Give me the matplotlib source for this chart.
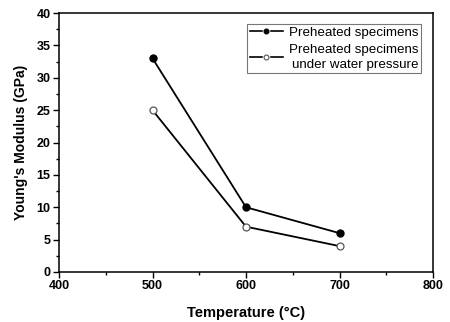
import matplotlib.pyplot as plt
from matplotlib.lines import Line2D
from matplotlib.legend_handler import HandlerTuple
from matplotlib.ticker import MultipleLocator

plt.rcParams['font.family'] = ['Liberation Sans', 'DejaVu Sans']

temperature = [500, 600, 700]
modulus_preheated = [33, 10, 6]
modulus_water = [25, 7, 4]
labels = ['Preheated specimens', 'Preheated specimens\nunder water pressure']

fig = plt.figure(figsize=(4.5, 3.22), dpi=100)
ax = fig.add_axes([59 / 450, 1 - 272 / 322, (433 - 59) / 450, (272 - 13) / 322])

ax.plot(temperature, modulus_preheated, color='black', lw=1.3, marker='o', ms=5,
        mfc='black', mec='black')
ax.plot(temperature, modulus_water, color='black', lw=1.3, marker='o', ms=5,
        mfc='white', mec='#555555', mew=0.9)

ax.set_xlim(400, 800)
ax.set_ylim(0, 40)
ax.xaxis.set_major_locator(MultipleLocator(100))
ax.xaxis.set_minor_locator(MultipleLocator(50))
ax.yaxis.set_major_locator(MultipleLocator(5))
ax.yaxis.set_minor_locator(MultipleLocator(2.5))
ax.tick_params(which='major', direction='out', length=4, width=1, labelsize=9, pad=2)
ax.tick_params(which='minor', direction='out', length=2.5, width=1)
for lbl in ax.get_xticklabels() + ax.get_yticklabels():
    lbl.set_fontweight('bold')
for sp in ax.spines.values():
    sp.set_linewidth(1.1)

ax.set_xlabel('Temperature (°C)', fontsize=10.5, fontweight='bold', labelpad=10)
ax.set_ylabel("Young's Modulus (GPa)", fontsize=10, fontweight='bold', labelpad=6)

# legend keys "—o—": line with a white disc punched out, small marker on top
def key(face, edge):
    gap = Line2D([], [], color='black', lw=1.2, marker='o', ms=5.5,
                 mfc='white', mec='white', mew=0)
    dot = Line2D([], [], ls='none', marker='o', ms=3.5, mfc=face, mec=edge, mew=0.8)
    return (gap, dot)

leg = ax.legend([key('black', 'black'), key('white', '#555555')], labels,
                handler_map={tuple: HandlerTuple(ndivide=1, pad=0)}, numpoints=1,
                loc='upper right', bbox_to_anchor=(0.968, 0.9575), fontsize=9.6,
                frameon=True, fancybox=False, edgecolor='#555555',
                handlelength=2.5, handletextpad=0.45, borderpad=0.2,
                labelspacing=0.35, borderaxespad=0)
leg.get_frame().set_linewidth(0.8)
for t in leg.get_texts():
    t.set_multialignment('right')
    t.set_linespacing(1.35)

fig.savefig('out.png', dpi=100)
